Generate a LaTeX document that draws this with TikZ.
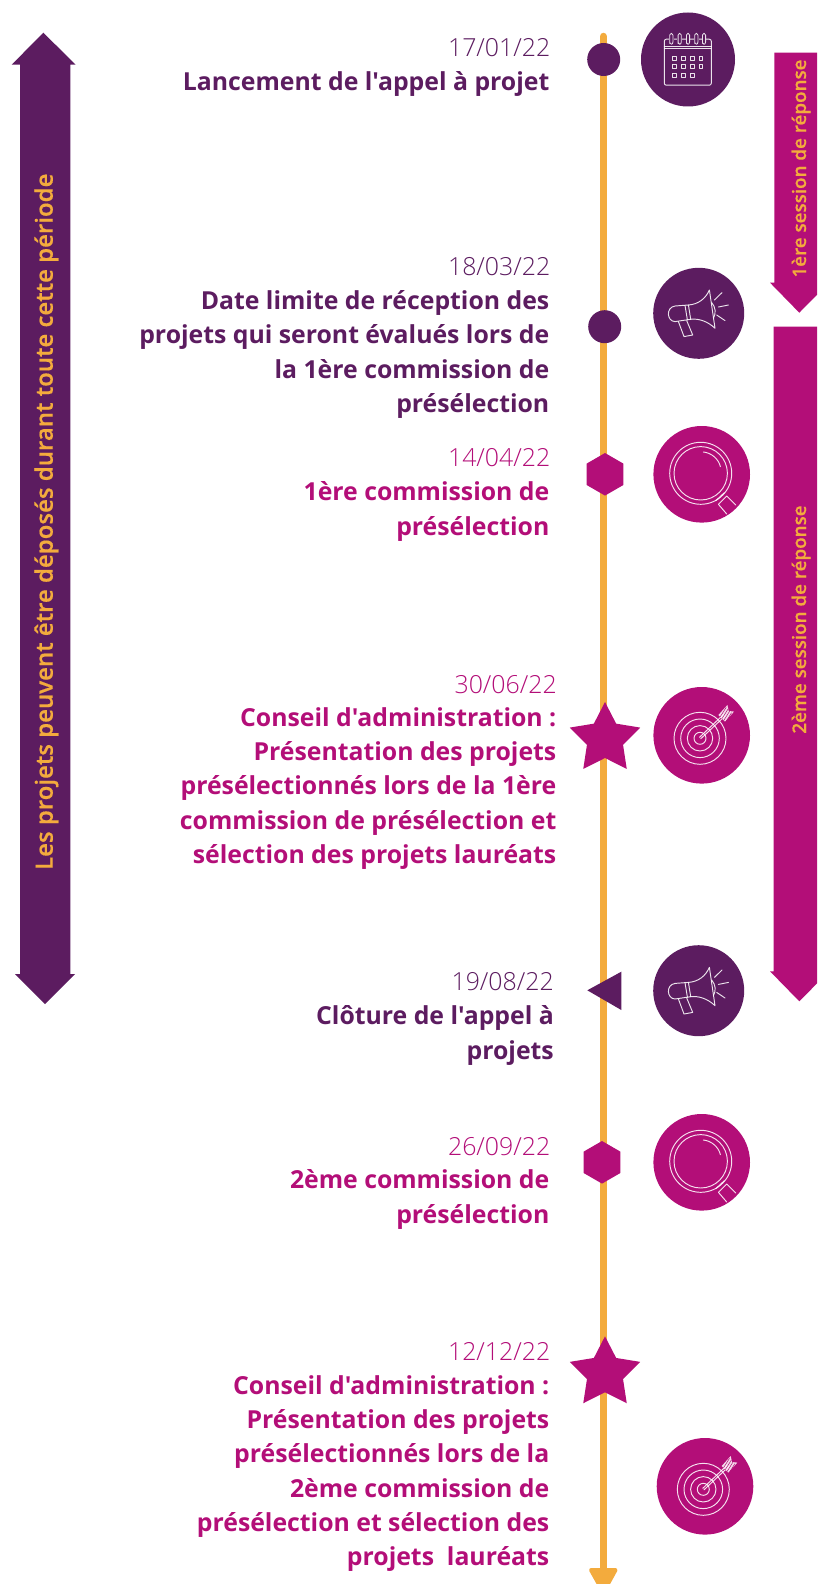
\documentclass[tikz,border=0pt]{standalone}
\usepackage{fontspec}
\usetikzlibrary{shapes.geometric}
\setmainfont{Open Sans}[Ligatures=TeXOff]
\newfontfamily\datefont{Open Sans Light}
\newfontfamily\semifont{Open Sans Semibold}[FakeBold=0.4]
\definecolor{tpurple}{HTML}{5C1C60}
\definecolor{tmagenta}{HTML}{B30E78}
\definecolor{torange}{HTML}{F3AB3D}
\tikzset{
  x=1pt,y=-1pt,
  datelabel/.style={anchor=base east,inner sep=0,font=\datefont\fontsize{24.9}{34}\selectfont},
  titlelabel/.style={anchor=base east,inner sep=0,align=right,font=\bfseries\fontsize{24.8}{34.3}\selectfont},
  sidelabel/.style={anchor=base,inner sep=0,rotate=90,text=torange},
  dotmark/.style={circle,fill=tpurple,inner sep=0,minimum size=33},
  hexmark/.style={regular polygon,regular polygon sides=6,shape border rotate=30,fill=tmagenta,inner sep=0,minimum size=42.6},
  starmark/.style={star,star points=5,star point ratio=1.95,fill=tmagenta,inner sep=0,minimum size=74},
  iconpurple/.style={circle,fill=tpurple,inner sep=0,minimum size=91},
  iconmagenta/.style={circle,fill=tmagenta,inner sep=0,minimum size=96.6},
  iconline/.style={draw=white,draw opacity=.88,line width=.95pt,line join=round,line cap=round},
  calendaricon/.pic={
    \draw[iconline,rounded corners=2pt] (-23.7,-20.3) rectangle (23.3,25.7);
    \draw[iconline] (-23.7,-13) -- (23.3,-13) (-23.7,-11) -- (23.3,-11);
    \foreach \cx in {-16.7,-8.3,0,8.3,16}{
      \fill[tpurple] (\cx-2.4,-27) rectangle (\cx+2.4,-14.5);
      \draw[iconline,line width=.8pt] (\cx-1.6,-16) -- (\cx-1.6,-24.5) .. controls (\cx-1.6,-26.8) and (\cx+1.6,-26.8) .. (\cx+1.6,-24.5) -- (\cx+1.6,-17.5) .. controls (\cx+1.6,-14.6) and (\cx-1.6,-14.6) .. (\cx-1.6,-17);
    }
    \foreach \cx/\cy in {-13.7/-1,-4.7/-1,4.3/-1,13/-1,-13.7/7.3,-4.7/7.3,4.3/7.3,13/7.3,-13.7/15.7,-4.7/15.7,4.3/15.7}{
      \draw[iconline,line width=1.1pt] (\cx-1.9,\cy-1.9) rectangle (\cx+1.9,\cy+1.9);
    }
  },
  megaphoneicon/.pic={
    \draw[iconline] (-10.3,-8.3) .. controls (0,-9) and (7,-15) .. (10.7,-23.3) -- (16.3,15) .. controls (9,8) and (0,5) .. (-8,6) -- cycle;
    \draw[iconline] (-10.3,-8.3) -- (-23.7,-7.3) .. controls (-33,-6) and (-32,8) .. (-23.7,8.3) -- (-8,6);
    \draw[iconline] (-13.7,-7.9) -- (-11.3,6.6);
    \draw[iconline] (13,-10.7) .. controls (17,-6) and (17.5,0) .. (14.7,5);
    \draw[iconline] (-20.3,8.3) -- (-14.7,23.3) -- (-6,21.7) -- (-12,7.3);
    \draw[iconline] (15.7,-13.3) -- (23.3,-20.7) (19.7,-6.3) -- (29.7,-8.3) (18,1.7) -- (26.3,7.3);
  },
  magnifiericon/.pic={
    \draw[iconline] (-1,-1) circle[radius=31] (-1,-1) circle[radius=26.7];
    \draw[iconline] (1.6,-22.3) .. controls (10,-21.5) and (17,-15) .. (18.7,-7.7);
    \draw[iconline] (14,26.5) -- (22.5,18.5) (16.7,30) -- (25,21.7) (16.7,30) -- (25,39.7) (25,21.7) -- (34,30.7);
  },
  targeticon/.pic={
    \foreach \rr in {26,19.3,12.7,6}{\draw[iconline] (-1.7,3) circle[radius=\rr];}
    \draw[iconline] (-2.2,2) -- (22,-21) (-1,3.5) -- (23.5,-19.5);
    \fill[white,opacity=.85] (16.7,-20.3) -- (25.7,-30.3) -- (27,-24.3) -- (32.3,-23.7) -- (23.3,-13.7) -- cycle;
    \foreach \ss in {0,1.8,3.6,5.4}{\draw[draw=tmagenta,line width=.5pt] (18.5+\ss,-18.5+\ss) -- (24.5+\ss,-28+\ss);}
  }
}
\begin{document}
\begin{tikzpicture}
\useasboundingbox (0,0) rectangle (817,1584);
\clip (0,0) rectangle (817,1584);
% arrows
\fill[tpurple] (43.3,32.7) -- (75.7,64.7) -- (70.3,64.7) -- (70.3,974) -- (75,974) -- (45,1004) -- (15,974) -- (20,974) -- (20,64.7) -- (11.7,64.7) -- cycle;
\fill[tmagenta] (774.3,52.7) -- (830,52.7) -- (830,282.7) -- (829,282.7) -- (799.3,312.7) -- (770,282.7) -- (774.3,282.7) -- cycle;
\fill[tmagenta] (773.7,326.7) -- (830,326.7) -- (830,971.3) -- (829,971.3) -- (799.3,1001.3) -- (770,971.3) -- (773.7,971.3) -- cycle;
\node[sidelabel,font=\semifont\fontsize{24}{28}\selectfont] (sideleft) at (52.7,521.7) {Les projets peuvent être déposés durant toute cette période};
\node[sidelabel,font=\semifont\fontsize{18.8}{24}\selectfont] (sideone) at (806,168.5) {1ère session de réponse};
\node[sidelabel,font=\semifont\fontsize{18.8}{24}\selectfont] (sidetwo) at (806,619.5) {2ème session de réponse};
% timeline
\coordinate (linetop) at (603.4,36.5);
\coordinate (linebot) at (603.4,1570);
\draw[torange,line width=7.5pt,line cap=round] (linetop) -- (linebot);
\fill[torange,draw=torange,line width=4pt,line join=round] (591,1570) -- (615.5,1570) -- (603.4,1592) -- cycle;
% markers
\node[dotmark] (m1) at (603.7,59.5) {};
\node[dotmark] (m2) at (604.7,326.7) {};
\node[hexmark] (m3) at (605,474.3) {};
\node[starmark] (m4) at (605,739) {};
\fill[tpurple] (587.3,990.3) -- (621.3,971.7) -- (621.3,1010) -- cycle;
\node[hexmark] (m6) at (602,1162.3) {};
\node[starmark] (m7) at (605,1373.3) {};
% icons
\node[iconpurple,minimum size=94] (i1) at (688,59.5) {};
\node[iconpurple] (i2) at (698.7,313.3) {};
\node[iconmagenta] (i3) at (701.7,474.3) {};
\node[iconmagenta] (i4) at (701.7,735.3) {};
\node[iconpurple] (i5) at (698.7,990.7) {};
\node[iconmagenta] (i6) at (701.7,1162.3) {};
\node[iconmagenta] (i7) at (705,1486.3) {};
\pic at (i1.center) {calendaricon};
\pic at (i2.center) {megaphoneicon};
\pic at (i3.center) {magnifiericon};
\pic at (i4.center) {targeticon};
\pic at (i5.center) {megaphoneicon};
\pic at (i6.center) {magnifiericon};
\pic at (i7.center) {targeticon};
% texts
\node[datelabel,text=tpurple] (d1) at (550.5,56.7) {17/01/22};
\node[titlelabel,text=tpurple] (t1) at (549.5,90.8) {Lancement de l'appel à projet};
\node[datelabel,text=tpurple] (d2) at (550.5,275) {18/03/22};
\node[titlelabel,text=tpurple] (t2) at (549.5,412.5) {Date limite de réception des\\projets qui seront évalués lors de\\la 1ère commission de\\présélection};
\node[datelabel,text=tmagenta] (d3) at (550.5,466.7) {14/04/22};
\node[titlelabel,text=tmagenta] (t3) at (549.5,535) {1ère commission de\\présélection};
\node[datelabel,text=tmagenta] (d4) at (557,693) {30/06/22};
\node[titlelabel,text=tmagenta] (t4) at (556.5,863.3) {Conseil d'administration :\\Présentation des projets\\présélectionnés lors de la 1ère\\commission de présélection et\\sélection des projets lauréats};
\node[datelabel,text=tpurple] (d5) at (554,990) {19/08/22};
\node[titlelabel,text=tpurple] (t5) at (554,1059) {Clôture de l'appel à\\projets};
\node[datelabel,text=tmagenta] (d6) at (550.5,1155) {26/09/22};
\node[titlelabel,text=tmagenta] (t6) at (549.5,1223) {2ème commission de\\présélection};
\node[datelabel,text=tmagenta] (d7) at (550.5,1360.7) {12/12/22};
\node[titlelabel,text=tmagenta] (t7) at (549.5,1565.7) {Conseil d'administration :\\Présentation des projets\\présélectionnés lors de la\\2ème commission de\\présélection et sélection des\\projets\ \ lauréats};
\end{tikzpicture}
\end{document}
